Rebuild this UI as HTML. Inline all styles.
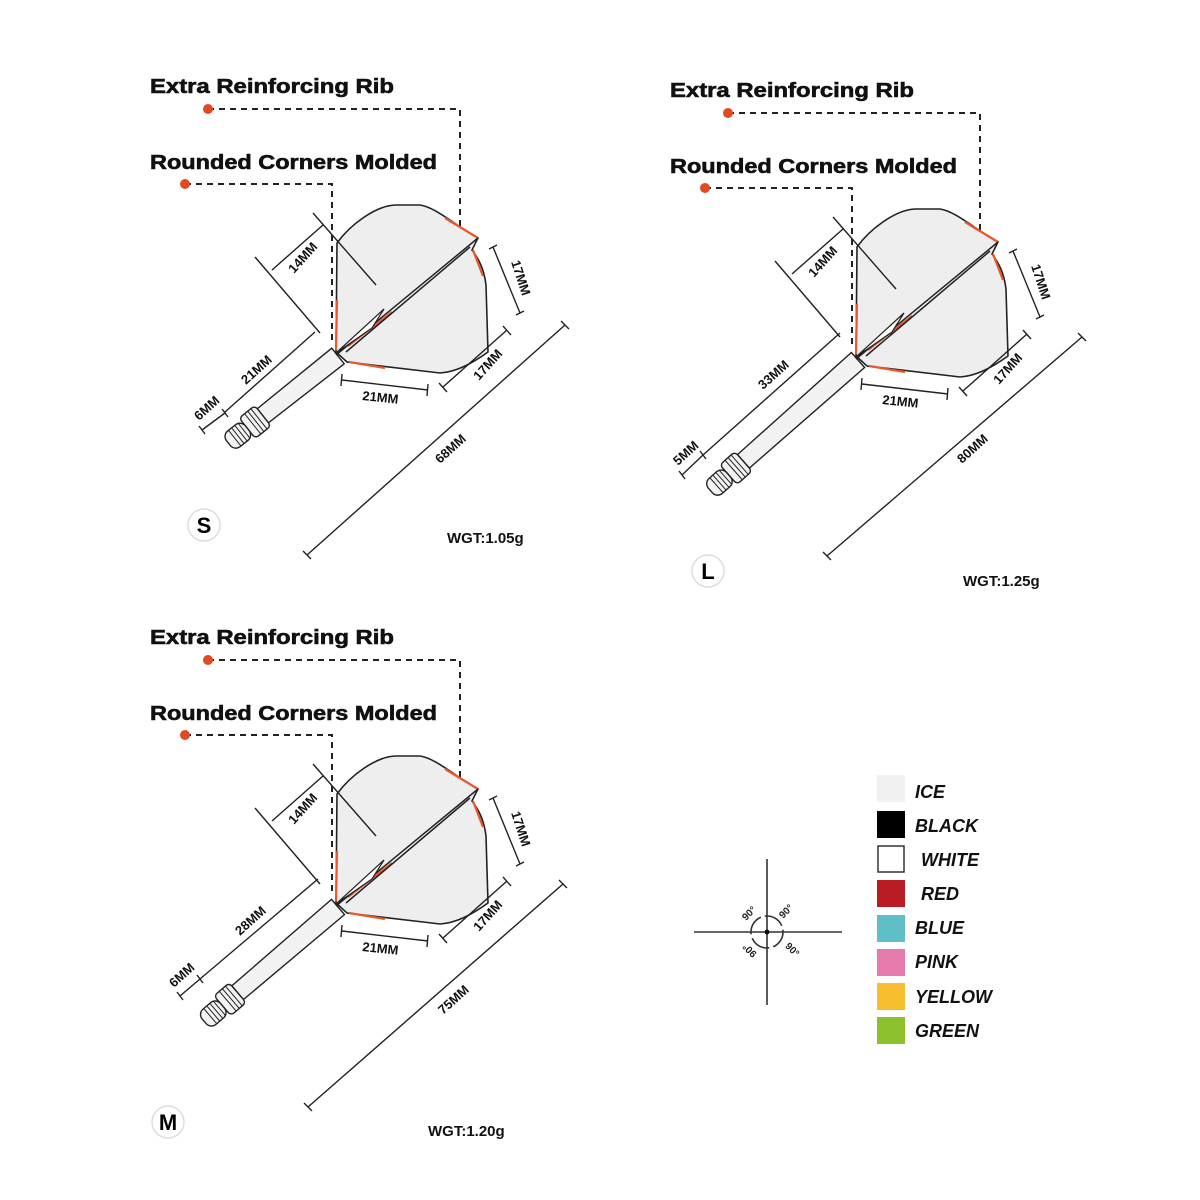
<!DOCTYPE html>
<html><head><meta charset="utf-8"><style>
html,body{margin:0;padding:0;background:#fff;}
svg{display:block;}
.h{font-family:"Liberation Sans",sans-serif;font-weight:bold;font-size:20px;fill:#111;stroke:#111;stroke-width:0.6;}
.d{font-family:"Liberation Sans",sans-serif;font-weight:bold;font-size:13px;fill:#111;}
.w{font-family:"Liberation Sans",sans-serif;font-weight:bold;font-size:15px;fill:#111;}
.lg{font-family:"Liberation Sans",sans-serif;font-weight:bold;font-style:italic;font-size:18px;fill:#111;}
</style></head><body>
<svg width="1200" height="1200" viewBox="0 0 1200 1200" xmlns="http://www.w3.org/2000/svg">
<defs>
<g id="flight">
  <path d="M208,109 H460 V228" fill="none" stroke="#222" stroke-width="2" stroke-dasharray="6,5"/>
  <path d="M185,184 H332 V340" fill="none" stroke="#222" stroke-width="2" stroke-dasharray="6,5"/>
  <circle cx="208" cy="109" r="5" fill="#e04a22"/>
  <circle cx="185" cy="184" r="5" fill="#e04a22"/>
  <path d="M337,243 C350,225 375,206 395,205 L420,205 C435,207 455,225 478,238 L472,250 C478,258 484,268 486,285 L488,352 C470,365 455,372 440,373 L347,362 L336,352 Z" fill="#eeeeee" stroke="#222" stroke-width="1.6"/>
  <path d="M445,218 L478,238 M473,250 L483,276 M337,300 L336,350 M349,362 L385,368 M348,346 L392,312" fill="none" stroke="#e8582c" stroke-width="2.2"/>
  <path d="M478,238 L336,355 M470,247 L346,352" stroke="#222" stroke-width="1.5" fill="none"/>
  <path d="M336,353 L384,309 L372,328 Z" fill="#fff" stroke="#222" stroke-width="1.2"/>
  <path d="M313,213 L376,285 M272,270 L323,225 M255,257 L320,333" stroke="#222" stroke-width="1.4" fill="none"/>
  <text class="d" transform="translate(294,274) rotate(-48)">14MM</text>
  <path d="M342,380 L428,390 M342,374 L341,386 M428,384 L427,396" stroke="#222" stroke-width="1.4" fill="none"/>
  <text class="d" transform="translate(362,400) rotate(6)">21MM</text>
  <path d="M443,387 L507,330 M439,383 L447,392 M503,326 L511,335" stroke="#222" stroke-width="1.4" fill="none"/>
  <text class="d" transform="translate(479,381) rotate(-48)">17MM</text>
  <path d="M493,247 L520,313 M489,249 L497,245 M516,315 L524,311" stroke="#222" stroke-width="1.4" fill="none"/>
  <text class="d" transform="translate(511,262) rotate(72)">17MM</text>
</g>
</defs>

<!-- S -->
<g>
  <text class="h" x="150" y="93" textLength="244" lengthAdjust="spacingAndGlyphs">Extra Reinforcing Rib</text>
  <text class="h" x="150" y="169" textLength="287" lengthAdjust="spacingAndGlyphs">Rounded Corners Molded</text>
  <g transform="translate(338,356) rotate(141.5)">
    <path d="M0,-10 L96,-9 L96,9 L0,10 Z" fill="#f2f2f2" stroke="#222" stroke-width="1.4"/>
    <rect x="96" y="-13" width="20" height="26" rx="4" fill="#f2f2f2" stroke="#222" stroke-width="1.4"/>
    <path d="M101,-13 V13 M105,-13 V13 M109,-13 V13" stroke="#222" stroke-width="1"/>
    <rect x="116" y="-10" width="24" height="20" rx="7" fill="#f2f2f2" stroke="#222" stroke-width="1.4"/>
    <path d="M120,-10 V10 M124,-10 V10 M128,-10 V10 M132,-10 V10" stroke="#222" stroke-width="1"/>
  </g>
  <use href="#flight"/>
  <path d="M225,412 L315,332 M202,430 L225,413 M199,426 L205,434 M222,409 L228,417" stroke="#222" stroke-width="1.4" fill="none"/>
  <text class="d" transform="translate(246,385) rotate(-42)">21MM</text>
  <text class="d" transform="translate(199,421) rotate(-42)">6MM</text>
  <path d="M307,555 L565,325 M303,551 L311,559 M561,321 L569,329" stroke="#222" stroke-width="1.4" fill="none"/>
  <text class="d" transform="translate(440,464) rotate(-42)">68MM</text>
  <circle cx="204" cy="525" r="16" fill="#fff" stroke="#ddd" stroke-width="1.5"/>
  <text x="204" y="533" text-anchor="middle" style="font-family:'Liberation Sans',sans-serif;font-weight:bold;font-size:22px">S</text>
  <text class="w" x="447" y="543">WGT:1.05g</text>
</g>

<!-- L -->
<g transform="translate(520,4)">
  <text class="h" x="150" y="93" textLength="244" lengthAdjust="spacingAndGlyphs">Extra Reinforcing Rib</text>
  <text class="h" x="150" y="169" textLength="287" lengthAdjust="spacingAndGlyphs">Rounded Corners Molded</text>
  <g transform="translate(338,356) rotate(138.5)">
    <path d="M0,-10 L153,-9 L153,9 L0,10 Z" fill="#f2f2f2" stroke="#222" stroke-width="1.4"/>
    <rect x="153" y="-13" width="20" height="26" rx="4" fill="#f2f2f2" stroke="#222" stroke-width="1.4"/>
    <path d="M158,-13 V13 M162,-13 V13 M166,-13 V13" stroke="#222" stroke-width="1"/>
    <rect x="173" y="-10" width="24" height="20" rx="7" fill="#f2f2f2" stroke="#222" stroke-width="1.4"/>
    <path d="M177,-10 V10 M181,-10 V10 M185,-10 V10 M189,-10 V10" stroke="#222" stroke-width="1"/>
  </g>
  <use href="#flight"/>
  <path d="M183,451 L320,329 M162,471 L183,451 M159,467 L165,475 M180,447 L186,455" stroke="#222" stroke-width="1.4" fill="none"/>
  <text class="d" transform="translate(243,386) rotate(-42)">33MM</text>
  <text class="d" transform="translate(158,462) rotate(-42)">5MM</text>
  <path d="M307,552 L562,333 M303,548 L311,556 M558,329 L566,337" stroke="#222" stroke-width="1.4" fill="none"/>
  <text class="d" transform="translate(442,460) rotate(-42)">80MM</text>
  <circle cx="188" cy="567" r="16" fill="#fff" stroke="#ddd" stroke-width="1.5"/>
  <text x="188" y="575" text-anchor="middle" style="font-family:'Liberation Sans',sans-serif;font-weight:bold;font-size:22px">L</text>
  <text class="w" x="443" y="582">WGT:1.25g</text>
</g>

<!-- M -->
<g transform="translate(0,551)">
  <text class="h" x="150" y="93" textLength="244" lengthAdjust="spacingAndGlyphs">Extra Reinforcing Rib</text>
  <text class="h" x="150" y="169" textLength="287" lengthAdjust="spacingAndGlyphs">Rounded Corners Molded</text>
  <g transform="translate(338,356) rotate(139.5)">
    <path d="M0,-10 L132,-9 L132,9 L0,10 Z" fill="#f2f2f2" stroke="#222" stroke-width="1.4"/>
    <rect x="132" y="-13" width="20" height="26" rx="4" fill="#f2f2f2" stroke="#222" stroke-width="1.4"/>
    <path d="M137,-13 V13 M141,-13 V13 M145,-13 V13" stroke="#222" stroke-width="1"/>
    <rect x="152" y="-10" width="24" height="20" rx="7" fill="#f2f2f2" stroke="#222" stroke-width="1.4"/>
    <path d="M156,-10 V10 M160,-10 V10 M164,-10 V10 M168,-10 V10" stroke="#222" stroke-width="1"/>
  </g>
  <use href="#flight"/>
  <path d="M200,428 L318,328 M180,445 L200,428 M177,441 L183,449 M197,424 L203,432" stroke="#222" stroke-width="1.4" fill="none"/>
  <text class="d" transform="translate(240,385) rotate(-42)">28MM</text>
  <text class="d" transform="translate(174,437) rotate(-42)">6MM</text>
  <path d="M308,556 L563,333 M304,552 L312,560 M559,329 L567,337" stroke="#222" stroke-width="1.4" fill="none"/>
  <text class="d" transform="translate(443,464) rotate(-42)">75MM</text>
  <circle cx="168" cy="571" r="16" fill="#fff" stroke="#ddd" stroke-width="1.5"/>
  <text x="168" y="579" text-anchor="middle" style="font-family:'Liberation Sans',sans-serif;font-weight:bold;font-size:22px">M</text>
  <text class="w" x="428" y="585">WGT:1.20g</text>
</g>

<!-- crosshair -->
<g stroke="#333" stroke-width="1.6" fill="none">
  <path d="M767,859 V1005 M694,932 H842"/>
  <circle cx="767" cy="932" r="16" stroke-dasharray="21,4.1" transform="rotate(-8 767 932)"/>
</g>
<circle cx="767" cy="932" r="2.5" fill="#111"/>
<g style="font-family:'Liberation Sans',sans-serif;font-weight:bold;font-size:10px" fill="#222">
  <text transform="translate(746,921) rotate(-45)">90°</text>
  <text transform="translate(783,919) rotate(-45)">90°</text>
  <text transform="translate(752,948) rotate(225)" text-anchor="middle">90°</text>
  <text transform="translate(790,952) rotate(45)" text-anchor="middle">90°</text>
</g>

<!-- legend -->
<rect x="877" y="775" width="28" height="27" fill="#f1f1f1"/>
<rect x="877" y="811" width="28" height="27" fill="#000"/>
<rect x="878" y="846" width="26" height="26" fill="#fff" stroke="#333" stroke-width="1.5"/>
<rect x="877" y="880" width="28" height="27" fill="#b81c22"/>
<rect x="877" y="915" width="28" height="27" fill="#5fbec8"/>
<rect x="877" y="949" width="28" height="27" fill="#e57aad"/>
<rect x="877" y="983" width="28" height="27" fill="#f6bd2e"/>
<rect x="877" y="1017" width="28" height="27" fill="#8cc02c"/>
<text class="lg" x="915" y="798">ICE</text>
<text class="lg" x="915" y="832">BLACK</text>
<text class="lg" x="921" y="866">WHITE</text>
<text class="lg" x="921" y="900">RED</text>
<text class="lg" x="915" y="934">BLUE</text>
<text class="lg" x="915" y="968">PINK</text>
<text class="lg" x="915" y="1003">YELLOW</text>
<text class="lg" x="915" y="1037">GREEN</text>
</svg>
</body></html>
